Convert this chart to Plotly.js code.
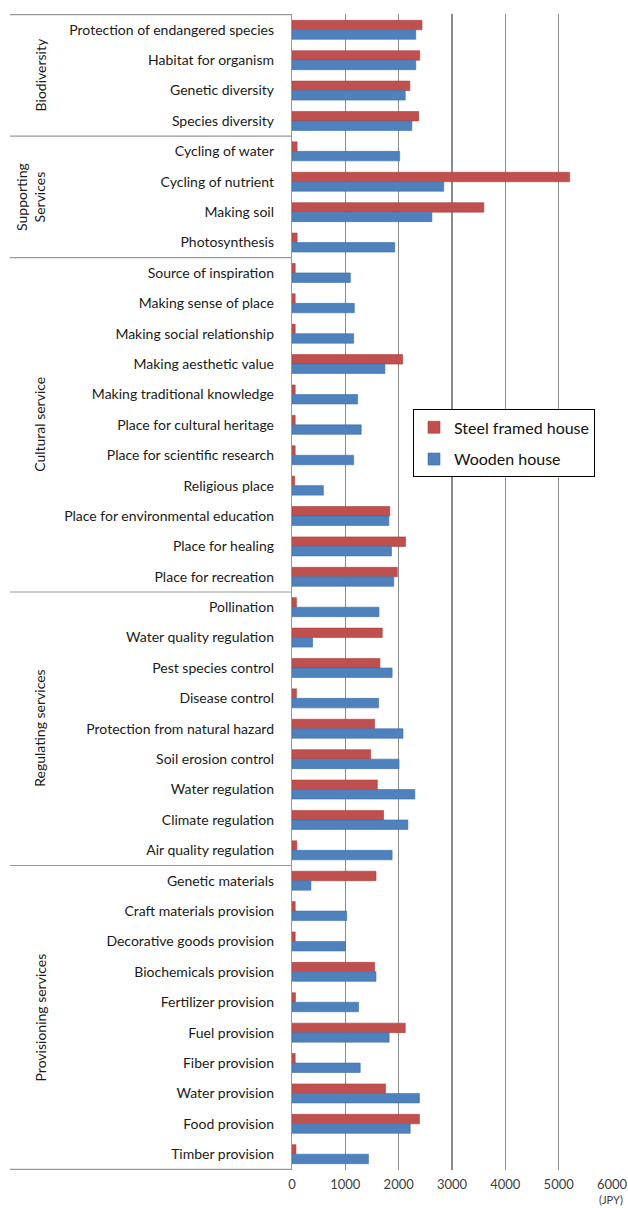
<!DOCTYPE html>
<html>
<head>
<meta charset="utf-8">
<script src="https://cdn.plot.ly/plotly-3.0.1.min.js"></script>
<style>html,body{margin:0;padding:0;background:#fff;}#chart{width:628px;height:1208px;}</style>
</head>
<body>
<div id="chart"></div>
<script>
const categories = [
  "Protection of endangered species","Habitat for organism","Genetic diversity","Species diversity",
  "Cycling of water","Cycling of nutrient","Making soil","Photosynthesis",
  "Source of inspiration","Making sense of place","Making social relationship","Making aesthetic value",
  "Making traditional knowledge","Place for cultural heritage","Place for scientific research","Religious place",
  "Place for environmental education","Place for healing","Place for recreation",
  "Pollination","Water quality regulation","Pest species control","Disease control",
  "Protection from natural hazard","Soil erosion control","Water regulation","Climate regulation",
  "Air quality regulation",
  "Genetic materials","Craft materials provision","Decorative goods provision","Biochemicals provision",
  "Fertilizer provision","Fuel provision","Fiber provision","Water provision","Food provision","Timber provision"
];
const steelFramed = [2438,2395,2210,2377, 96,5206,3597,96,
  60,60,60,2075,60,60,60,50,1834,2130,1975,
  83,1692,1649,83,1550,1476,1600,1717,90,
  1575,60,60,1550,65,2124,60,1754,2389,75];
const wooden = [2321,2321,2123,2247, 2019,2845,2623,1927,
  1094,1168,1156,1742,1230,1298,1156,588,1816,1865,1908,
  1631,385,1877,1624,2081,2007,2303,2173,1877,
  355,1026,1002,1575,1248,1822,1279,2389,2216,1433];
const seriesNames = ["Steel framed house","Wooden house"];
const groupNames = ["Biodiversity","Supporting<br>Services","Cultural service","Regulating services","Provisioning services"];
const groupSizes = [4,4,11,9,10];
const xTicks = [0,1000,2000,3000,4000,5000,6000];

const font = "Lato, 'Open Sans', sans-serif";
const traces = [
  {type:'bar', orientation:'h', name:seriesNames[0], y:categories, x:steelFramed,
   marker:{color:'#C0504D', line:{color:'#A8423F', width:0.6}}, legendgroup:'a'},
  {type:'bar', orientation:'h', name:seriesNames[1], y:categories, x:wooden,
   marker:{color:'#4F81BD', line:{color:'#3F6FA8', width:0.6}}, legendgroup:'b'}
];

const plotW = 320;
const lineLeft = -(292-10)/plotW;
const shapes = [];
const annotations = [];
let start = 0;
shapes.push({type:'line', xref:'paper', yref:'y', x0:lineLeft, x1:0, y0:-0.5, y1:-0.5, line:{color:'#999', width:1.2}});
groupSizes.forEach((n, i) => {
  const end = start + n;
  shapes.push({type:'line', xref:'paper', yref:'y', x0:lineLeft, x1:0, y0:end-0.5, y1:end-0.5, line:{color:'#999', width:1.2}});
  annotations.push({xref:'paper', yref:'y', x: i===1 ? -(292-31)/plotW : -(292-40)/plotW, y:(start+end-1)/2,
    text:groupNames[i], textangle:-90, showarrow:false, xanchor:'center', yanchor:'middle',
    font:{family:font, size:14, color:'#1a1a1a'}});
  start = end;
});
annotations.push({xref:'paper', yref:'paper', x:0.998, y:-0.019, text:'(JPY)', showarrow:false,
  xanchor:'center', yanchor:'top', borderpad:0, font:{family:font, size:11, color:'#404040'}});

const layout = {
  width:628, height:1208,
  margin:{l:292, r:628-292-plotW, t:14, b:38},
  paper_bgcolor:'#fff', plot_bgcolor:'#fff',
  barmode:'group', bargap:0.375, bargroupgap:0,
  showlegend:true,
  legend:{x:(413-292)/plotW, y:0.658, xanchor:'left', yanchor:'top', bgcolor:'#fff', bordercolor:'#000', borderwidth:1,
    font:{family:font, size:16, color:'#111'}, tracegroupgap:8},
  xaxis:{range:[0,6000], tickvals:xTicks, ticktext:xTicks.map(String), showgrid:true, gridcolor:'#8c8c8c', gridwidth:1.5,
    zeroline:false, showline:false, ticks:'', ticklabelstandoff:5, ticklabeloverflow:'allow',
    tickfont:{family:font, size:13, color:'#404040'}, fixedrange:true},
  yaxis:{type:'category', autorange:'reversed', showline:true, linecolor:'#999', linewidth:1.2, ticks:'',
    ticklabelstandoff:14, tickfont:{family:font, size:14, color:'#1a1a1a'}, showgrid:false, zeroline:false, fixedrange:true},
  shapes:shapes,
  annotations:annotations
};
Plotly.newPlot('chart', traces, layout, {displayModeBar:false, staticPlot:true});
</script>
</body>
</html>
